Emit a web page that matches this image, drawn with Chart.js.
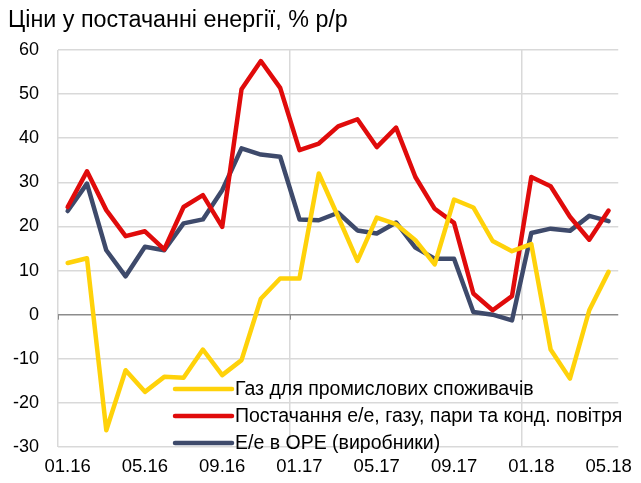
<!DOCTYPE html>
<html>
<head>
<meta charset="utf-8">
<script src="https://cdn.jsdelivr.net/npm/chart.js@4/dist/chart.umd.min.js"></script>
<style>
  html, body { margin: 0; padding: 0; background: #fff; }
  #wrap { position: relative; width: 641px; height: 483px; }
  #title { position: absolute; left: 8px; top: 6px; font-family: "Liberation Sans", sans-serif; font-size: 23.3px; color: #000; white-space: nowrap; }
  canvas { position: absolute; left: 0; top: 0; }
</style>
</head>
<body>
<div id="wrap">
  <canvas id="c" width="641" height="483"></canvas>
  <div id="title">Ціни у постачанні енергії, % р/р</div>
</div>
<script>
const categories = [
  "01.16","02.16","03.16","04.16","05.16","06.16","07.16","08.16","09.16","10.16","11.16","12.16",
  "01.17","02.17","03.17","04.17","05.17","06.17","07.17","08.17","09.17","10.17","11.17","12.17",
  "01.18","02.18","03.18","04.18","05.18"
];
const gasIndustrial = [11.7, 12.8, -26.2, -12.6, -17.5, -14.1, -14.3, -7.9, -13.7, -10.3, 3.6, 8.2,
  8.2, 32.0, 22.2, 12.2, 22.0, 20.5, 16.9, 11.4, 26.1, 24.3, 16.7, 14.4,
  16.0, -7.9, -14.5, 1.0, 9.7];
const supplyEnergy = [24.4, 32.5, 23.7, 17.8, 18.9, 14.8, 24.4, 27.1, 19.9, 51.1, 57.5, 51.4,
  37.3, 38.8, 42.7, 44.3, 38.0, 42.4, 31.2, 24.0, 20.8, 4.8, 1.0, 4.2,
  31.2, 29.1, 22.2, 17.0, 23.6];
const wholesaleElectricity = [23.5, 29.7, 14.6, 8.7, 15.4, 14.6, 20.7, 21.6, 28.2, 37.7, 36.3, 35.8,
  21.6, 21.4, 23.1, 19.1, 18.4, 20.9, 15.2, 12.7, 12.7, 0.6, 0.0, -1.3,
  18.5, 19.5, 19.0, 22.4, 21.2];
const seriesNames = [
  "Газ для промислових споживачів",
  "Постачання е/е, газу, пари та конд. повітря",
  "Е/е в ОРЕ (виробники)"
];
const yMin = -30, yMax = 60, yStep = 10;

const FONT = "'Liberation Sans', sans-serif";

const legendPlugin = {
  id: 'insideLegend',
  afterDatasetsDraw(chart) {
    const ctx = chart.ctx;
    const a = chart.chartArea;
    const x0 = a.left + 117, x1 = a.left + 174;
    const rows = [a.bottom - 58, a.bottom - 31, a.bottom - 4];
    ctx.save();
    chart.data.datasets.forEach((ds, i) => {
      const y = rows[i];
      ctx.strokeStyle = ds.borderColor;
      ctx.lineWidth = 4.5;
      ctx.lineCap = 'round';
      ctx.beginPath(); ctx.moveTo(x0, y); ctx.lineTo(x1, y); ctx.stroke();
      ctx.fillStyle = '#000';
      ctx.font = "19.5px " + FONT;
      ctx.textBaseline = 'middle';
      ctx.textAlign = 'left';
      ctx.fillText(ds.label, x1 + 3, y + 1);
    });
    ctx.restore();
  }
};

const tickMarkPlugin = {
  id: 'zeroTicks',
  afterDraw(chart) {
    const ctx = chart.ctx;
    const xs = chart.scales.x, ys = chart.scales.y;
    const y0 = ys.getPixelForValue(0);
    ctx.save();
    ctx.strokeStyle = '#8c8c8c';
    ctx.lineWidth = 1;
    for (let i = 0; i < categories.length; i += 12) {
      const x = Math.round(xs.getPixelForValue(i) - (xs.getPixelForValue(1) - xs.getPixelForValue(0)) / 2) + 0.5;
      ctx.beginPath(); ctx.moveTo(x, y0); ctx.lineTo(x, y0 + 5); ctx.stroke();
    }
    ctx.restore();
  }
};

new Chart(document.getElementById('c'), {
  type: 'line',
  data: {
    labels: categories,
    datasets: [
      { label: seriesNames[0], data: gasIndustrial, borderColor: '#FFD20A' },
      { label: seriesNames[1], data: supplyEnergy, borderColor: '#E00B0B' },
      { label: seriesNames[2], data: wholesaleElectricity, borderColor: '#3E4A6B' }
    ].map(d => Object.assign(d, { borderWidth: 4.5, pointRadius: 0, tension: 0, fill: false, borderJoinStyle: 'round', borderCapStyle: 'round' }))
  },
  options: {
    responsive: false,
    animation: false,
    devicePixelRatio: 1,
    layout: { padding: { left: 0, top: 50, right: 16, bottom: 0 } },
    plugins: { legend: { display: false }, title: { display: false }, tooltip: { enabled: false } },
    scales: {
      x: {
        type: 'category',
        offset: true,
        border: { display: false },
        grid: {
          offset: true,
          drawTicks: false,
          color: (c) => (c.index !== undefined && c.index % 12 === 0) ? '#d9d9d9' : 'rgba(0,0,0,0)',
          lineWidth: 1.5
        },
        ticks: {
          autoSkip: false,
          maxRotation: 0,
          padding: 9,
          color: '#000',
          font: { family: FONT, size: 18.5 },
          callback: function(v, i) { return i % 4 === 0 ? categories[i] : ''; }
        },
        afterFit: (s) => { s.height = 36; }
      },
      y: {
        min: yMin, max: yMax,
        border: { display: false },
        grid: {
          drawTicks: false,
          color: (c) => (c.tick && c.tick.value === 0) ? '#8c8c8c' : '#d9d9d9',
          lineWidth: 1.5
        },
        ticks: {
          stepSize: yStep,
          padding: 19,
          color: '#000',
          font: { family: FONT, size: 18 }
        },
        afterFit: (s) => { s.width = 58; }
      }
    }
  },
  plugins: [legendPlugin, tickMarkPlugin]
});
</script>
</body>
</html>
